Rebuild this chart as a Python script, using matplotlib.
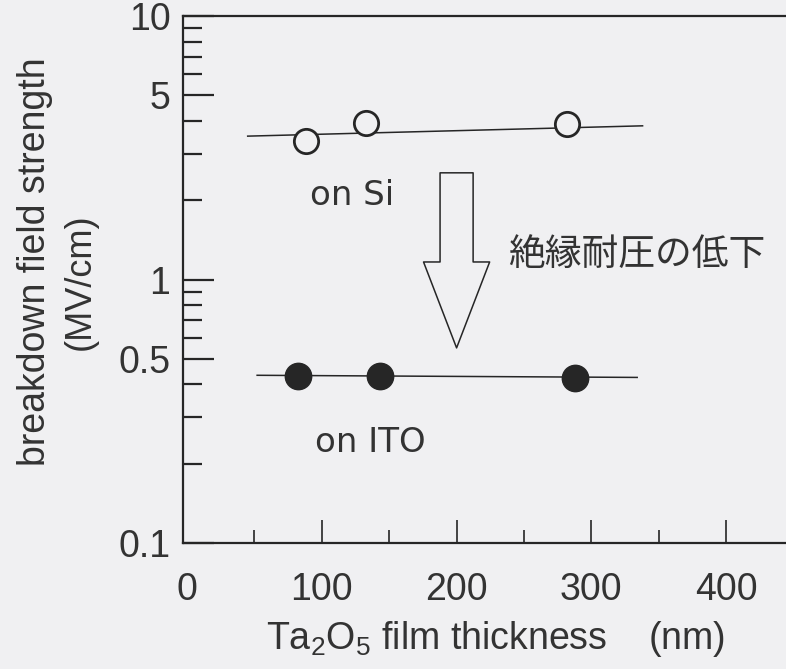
import matplotlib
matplotlib.use("Agg")
import matplotlib.pyplot as plt
from matplotlib.ticker import FixedLocator, NullFormatter

# Breakdown field of Ta2O5 films on two substrates
si_thickness = [88, 133, 282]
si_field = [3.36, 3.92, 3.89]
ito_thickness = [82, 143, 288]
ito_field = [0.43, 0.43, 0.424]

# hand-drawn guide lines through each series
si_line_x = [45, 338]
si_line_y = [3.50, 3.83]
ito_line_x = [52, 334]
ito_line_y = [0.433, 0.425]

# hollow arrow showing the drop
arrow_x = 200
arrow_from = 2.54
arrow_to = 0.55

x_major = [0, 100, 200, 300, 400]
x_minor = [50, 150, 250, 350, 450]
y_major = [0.1, 0.5, 1, 5, 10]
y_major_labels = ["0.1", "0.5", "1", "5", "10"]
y_minor = [0.2, 0.3, 0.4, 0.6, 0.7, 0.8, 0.9, 2, 3, 4, 6, 7, 8, 9]

plt.rcParams["font.family"] = ["Liberation Sans", "DejaVu Sans"]
plt.rcParams["mathtext.fontset"] = "custom"
plt.rcParams["mathtext.rm"] = "Liberation Sans"
plt.rcParams["mathtext.it"] = "Liberation Sans"
plt.rcParams["mathtext.default"] = "regular"

bg = "#f0f0f2"
ink = "#262626"
txt = "#333333"

fig = plt.figure(figsize=(7.86, 6.69), dpi=100, facecolor=bg)
ax = fig.add_axes([183 / 786, 126 / 669, 624 / 786, 527 / 669])
ax.set_facecolor(bg)

ax.set_yscale("log")
ax.set_xlim(-3, 460)
ax.set_ylim(0.1, 10)

# guide lines
ax.plot(si_line_x, si_line_y, color=ink, lw=1.1, zorder=2)
ax.plot(ito_line_x, ito_line_y, color=ink, lw=1.1, zorder=2)

# data points
ax.plot(si_thickness, si_field, "o", ms=17.5, mfc=bg, mec=ink, mew=2.0,
        ls="none", zorder=3)
ax.plot(ito_thickness, ito_field, "o", ms=19, mfc=ink, mec=ink, mew=1.0,
        ls="none", zorder=3)

# outlined arrow
ax.annotate("", xy=(arrow_x, arrow_to), xytext=(arrow_x, arrow_from),
            arrowprops=dict(arrowstyle="simple,head_width=2.0,head_length=2.6,tail_width=1.0",
                            mutation_scale=23.8, fc=bg, ec=ink, lw=1.1,
                            shrinkA=0, shrinkB=0))

ax.text(91, 1.92, "on Si", fontsize=24.5, color=txt, family=["DejaVu Sans"],
        ha="left", va="baseline")
ax.text(95, 0.2215, "on ITO", fontsize=24.5, color=txt, family=["DejaVu Sans"],
        ha="left", va="baseline")
ax.text(238, 1.24, "絶縁耐圧の低下", fontsize=26.5, color=txt,
        family=["Noto Sans CJK JP", "DejaVu Sans"], ha="left", va="center")

# axes frame
ax.spines["right"].set_visible(False)
for side in ("left", "top", "bottom"):
    ax.spines[side].set_color(ink)
    ax.spines[side].set_linewidth(1.6)

ax.xaxis.set_major_locator(FixedLocator(x_major))
ax.xaxis.set_minor_locator(FixedLocator(x_minor))
ax.xaxis.set_minor_formatter(NullFormatter())
ax.set_xticklabels([str(v) for v in x_major])

ax.yaxis.set_major_locator(FixedLocator(y_major))
ax.yaxis.set_minor_locator(FixedLocator(y_minor))
ax.yaxis.set_minor_formatter(NullFormatter())
ax.set_yticklabels(y_major_labels)

ax.tick_params(axis="x", which="major", direction="in", length=16.5, width=1.2,
               color=ink, labelsize=27, labelcolor=txt, pad=21, top=False)
ax.tick_params(axis="x", which="minor", direction="in", length=9.5, width=1.2,
               color=ink, top=False)
ax.tick_params(axis="y", which="major", direction="in", length=22.5, width=1.6,
               color=ink, labelsize=27, labelcolor=txt, pad=9, right=False)
ax.tick_params(axis="y", which="minor", direction="in", length=13.8, width=1.6,
               color=ink, right=False)
# the zero tick sits on the left spine, so only its label is shown
ax.xaxis.get_major_ticks()[0].tick1line.set_visible(False)

ax.set_xlabel("Ta$_2$O$_5$ film thickness    (nm)", fontsize=27, color=txt,
              labelpad=8)

# two-line y axis title
fig.text(35 / 786, 1 - 262 / 669, "breakdown field strength", fontsize=27,
         color=txt, rotation=90, ha="center", va="center")
fig.text(80 / 786, 1 - 282 / 669, "(MV/cm)", fontsize=26, color=txt,
         rotation=90, ha="center", va="center")

fig.savefig("out.png", dpi=100, facecolor=bg)
